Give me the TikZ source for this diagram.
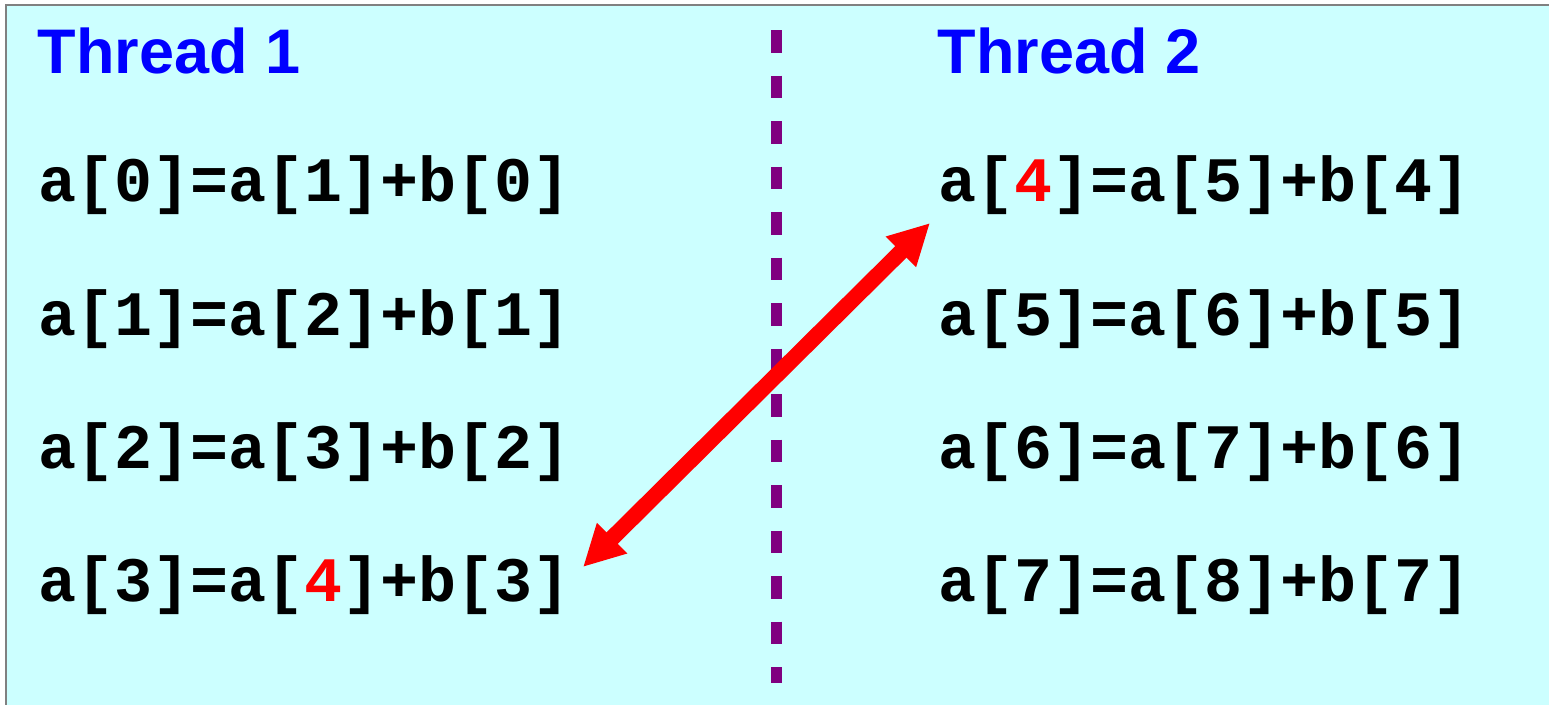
\documentclass[tikz,border=0pt]{standalone}
\usepackage{fontspec}
\usetikzlibrary{arrows.meta}
\newfontfamily\codefont{Liberation Mono}
\newfontfamily\titlefont{Liberation Sans}
\definecolor{bgcyan}{HTML}{CCFFFF}
\definecolor{framegray}{HTML}{808080}
\definecolor{sepurple}{HTML}{800080}
\definecolor{titleblue}{HTML}{0000FF}
\definecolor{hotred}{HTML}{FF0000}
\begin{document}
\begin{tikzpicture}[x=1pt,y=-1pt,
  title/.style={anchor=base west,inner sep=0pt,text=titleblue,
    font=\titlefont\bfseries\fontsize{63}{70}\selectfont},
  code/.style={anchor=base west,inner sep=0pt,text=black,
    font=\codefont\bfseries\fontsize{63.3}{70}\selectfont},
  separator/.style={draw=sepurple,line width=11pt,dash pattern=on 22.5pt off 23pt},
  link/.style={draw=hotred,line width=16pt,
    {Triangle[length=41pt,width=40pt]}-{Triangle[length=41pt,width=40pt]}}
]
\useasboundingbox (0,0) rectangle (1549,704);
\path[fill=bgcyan,draw=framegray,line width=1.5pt] (6,5) rectangle (1560,715);
\newcommand{\hl}[1]{\textcolor{hotred}{#1}}
\node[title] (t1) at (37.5,73.3) {Thread 1};
\node[title] (t2) at (937.5,73.3) {Thread 2};
\node[code] (l1) at (38.5,201.7) {a[0]=a[1]+b[0]};
\node[code] (l2) at (38.5,335) {a[1]=a[2]+b[1]};
\node[code] (l3) at (38.5,468.3) {a[2]=a[3]+b[2]};
\node[code] (l4) at (38.5,601.7) {a[3]=a[\hl{4}]+b[3]};
\node[code] (l5) at (938.5,201.7) {a[\hl{4}]=a[5]+b[4]};
\node[code] (l6) at (938.5,335) {a[5]=a[6]+b[5]};
\node[code] (l7) at (938.5,468.3) {a[6]=a[7]+b[6]};
\node[code] (l8) at (938.5,601.7) {a[7]=a[8]+b[7]};
\coordinate (sepTop) at (776,30);
\coordinate (sepBot) at (776,683);
\draw[separator] (sepTop) -- (sepBot);
\coordinate (arrLow) at (583,567);
\coordinate (arrHigh) at (930,223);
\draw[link] (arrLow) -- (arrHigh);
\end{tikzpicture}
\end{document}
